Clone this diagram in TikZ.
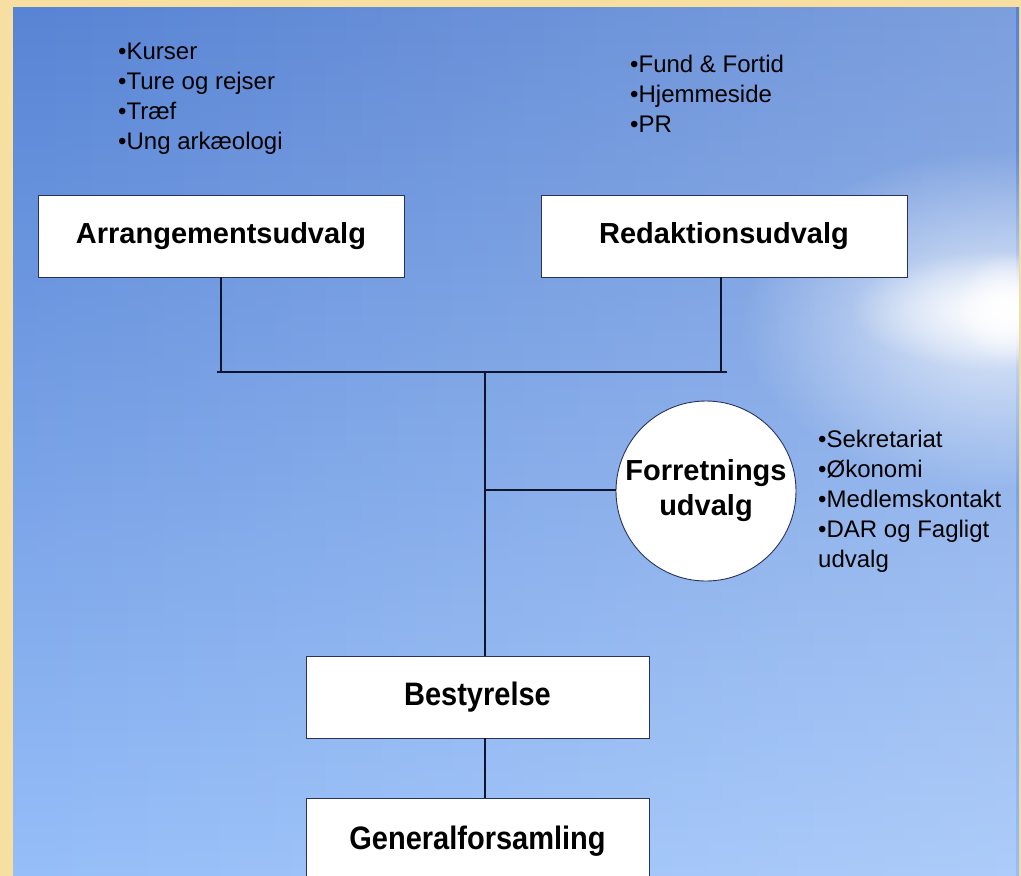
\documentclass[tikz,border=0pt]{standalone}
\usepackage{fontspec}
\setmainfont{Liberation Sans}
\usetikzlibrary{fadings}
\definecolor{frame}{RGB}{246,223,160}
\definecolor{skyA}{RGB}{88,132,212}
\definecolor{skyB}{RGB}{138,178,242}
\definecolor{skyC}{RGB}{150,190,248}
\definecolor{edgecol}{RGB}{40,50,95}
\definecolor{wirecol}{RGB}{15,20,45}
\tikzfading[name=glow, inner color=transparent!0, outer color=transparent!100]
\tikzfading[name=fadeleft, left color=transparent!100, right color=transparent!0]
\begin{document}
\begin{tikzpicture}[x=1pt,y=-1pt,
  box/.style={draw=edgecol, line width=0.9pt, fill=white, inner sep=0pt,
    minimum width=366pt, minimum height=82pt, font=\fontsize{29}{35}\selectfont\bfseries},
  lowbox/.style={box, minimum width=343pt},
  listtext/.style={anchor=north west, inner sep=0pt, align=left, font=\fontsize{24}{30}\selectfont},
  conn/.style={draw=wirecol, line width=1.3pt}]
\useasboundingbox (0,0) rectangle (1021,876);
% background
\fill[frame] (0,0) rectangle (1021,876);
\shade[top color=skyA, middle color=skyB, bottom color=skyC] (13,7) rectangle (1019,876);
\fill[white, path fading=fadeleft, fill opacity=0.22] (13,7) rectangle (1019,876);
\begin{scope}
\clip (13,7) rectangle (1019,876);
\fill[white, path fading=glow, fill opacity=0.75] (1000,320) ellipse (260pt and 170pt);
\fill[white, path fading=glow] (1000,310) ellipse (150pt and 60pt);
\fill[white, path fading=glow] (1010,308) circle (55pt);
\end{scope}
% nodes
\node[box] (arr) at (221,236) {Arrangementsudvalg};
\node[box] (red) at (724,236) {Redaktionsudvalg};
\node[circle, draw=edgecol, line width=0.9pt, fill=white, minimum size=180pt, inner sep=0pt,
  align=center, font=\fontsize{29}{35}\selectfont\bfseries] (fu) at (706,491) {Forretnings\\udvalg};
\node[lowbox] (best) at (477.5,697) {\scalebox{1}[1.12]{Bestyrelse}};
\node[lowbox, minimum height=86pt] (gen) at (477.5,841) {\scalebox{1}[1.12]{Generalforsamling}};
% lists
\node[listtext] (la) at (118,43) {•Kurser\\•Ture og rejser\\•Træf\\•Ung arkæologi};
\node[listtext] (lr) at (630,54.5) {•Fund \& Fortid\\•Hjemmeside\\•PR};
\node[listtext] (lf) at (818,429.5) {•Sekretariat\\•Økonomi\\•Medlemskontakt\\•DAR og Fagligt\\udvalg};
% connectors
\coordinate (jl) at (217,372);
\coordinate (jr) at (727,372);
\coordinate (jc) at (485,372);
\coordinate (jb) at (485,490);
\draw[conn] (arr.south) -- (arr.south |- jc);
\draw[conn] ([xshift=-3pt]red.south) -- ([xshift=-3pt]red.south |- jc);
\draw[conn] (jl) -- (jr);
\draw[conn] (jc) -- (jc |- best.north);
\draw[conn] (jb) -- (jb -| fu.west);
\draw[conn] (jc |- best.south) -- (jc |- gen.north);
\end{tikzpicture}
\end{document}
